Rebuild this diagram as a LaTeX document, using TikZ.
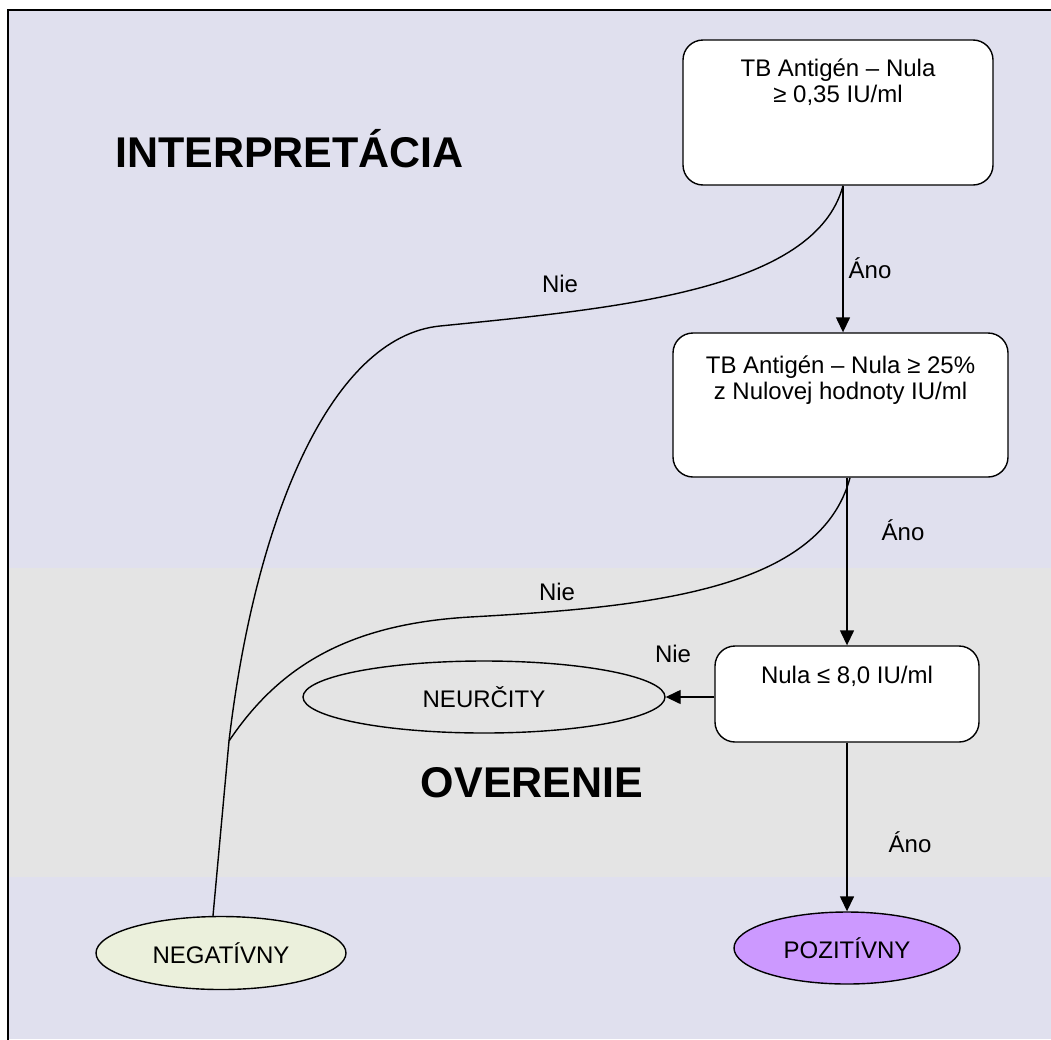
\documentclass[tikz,border=0pt]{standalone}
\usepackage{fontspec}
\setmainfont{Liberation Sans}
\usetikzlibrary{arrows.meta}
\usetikzlibrary{shapes.geometric}
\usetikzlibrary{positioning}
\definecolor{lavender}{RGB}{224,224,238}
\definecolor{bandgrey}{RGB}{228,228,228}
\definecolor{negfill}{RGB}{235,240,220}
\definecolor{posfill}{RGB}{204,153,255}
\tikzset{
    decision/.style={
           rectangle,
           rounded corners=20pt,
           draw=black, line width=1.4pt,
           fill=white,
           inner sep=0pt,
           font=\fontsize{24}{26}\selectfont,
           },
    result/.style={
           ellipse,
           draw=black, line width=1.4pt,
           inner sep=0pt,
           font=\fontsize{24}{26}\selectfont,
           },
    answer/.style={anchor=base, font=\fontsize{24}{26}\selectfont},
    heading/.style={anchor=base, font=\fontsize{43}{50}\selectfont\bfseries},
    conn/.style={line width=1.4pt},
}

\begin{document}
\begin{tikzpicture}[x=1pt,y=-1pt,>={Triangle[width=14pt,length=15pt]}]

 % page, band and frame
 \useasboundingbox (0,0) rectangle (1051,1039);
 \fill[lavender] (8,10) rectangle (1051,1039);
 \fill[bandgrey] (8,568) rectangle (1051,877);
 \draw[line width=2.5pt] (8,1045) -- (8,10) -- (1060,10);

 % headings
 \node[heading] (INTERP) at (289.5,167) {INTERPRETÁCIA};
 \node[heading] (OVER) at (532,797) {OVERENIE};

 % decision boxes, text at the top
 \node[decision] (QUANT) at (838,112.5)
 {\parbox[c][145pt][t]{310pt}{\centering\rule{0pt}{36pt}TB Antigén – Nula\\ ≥ 0,35 IU/ml}};
 \node[decision] (PERC) at (840.5,405)
 {\parbox[c][144pt][t]{335pt}{\centering\rule{0pt}{40pt}TB Antigén – Nula ≥ 25\%\\ z Nulovej hodnoty IU/ml}};
 \node[decision] (NULL) at (847,694)
 {\parbox[c][96pt][t]{264pt}{\centering\rule{0pt}{37pt}Nula ≤ 8,0 IU/ml}};

 % results
 \node[result, fill=bandgrey, minimum width=362pt, minimum height=72pt] (NEUR) at (484,697) {NEURČITY};
 \node[result, fill=negfill, minimum width=250pt, minimum height=73pt] (NEG) at (221,953) {NEGATÍVNY};
 \node[result, fill=posfill, minimum width=226pt, minimum height=72pt] (POS) at (847,948) {POZITÍVNY};

 % the two "Nie" lines meet here
 \coordinate (MERGE) at (229,741);

 % yes paths
 \draw[->, conn] ([xshift=5pt]QUANT.south) -- ([xshift=2.5pt]PERC.north);
 \draw[->, conn] (PERC.south -| NULL) -- (NULL.north);
 \draw[->, conn] (NULL.south) -- (POS.north);
 \draw[->, conn] (NULL.west |- NEUR) -- (NEUR.east);

 % no paths
 \draw[conn] ([xshift=5pt]QUANT.south) .. controls (815,290) and (620,308) .. (440,326)
   .. controls (330,337) and (255,520) .. (MERGE) -- ([xshift=-8pt]NEG.north);
 \draw[conn] ([xshift=9.5pt]PERC.south) .. controls (820,590) and (650,607) .. (470,617)
   .. controls (350,624) and (280,665) .. (MERGE);

 % labels
 \node[answer] (YES1) at (870,278) {Áno};
 \node[answer] (YES2) at (903,540) {Áno};
 \node[answer] (YES3) at (910,852) {Áno};
 \node[answer] (NO1) at (560,292) {Nie};
 \node[answer] (NO2) at (557,600) {Nie};
 \node[answer] (NO3) at (673,662) {Nie};

\end{tikzpicture}
\end{document}
